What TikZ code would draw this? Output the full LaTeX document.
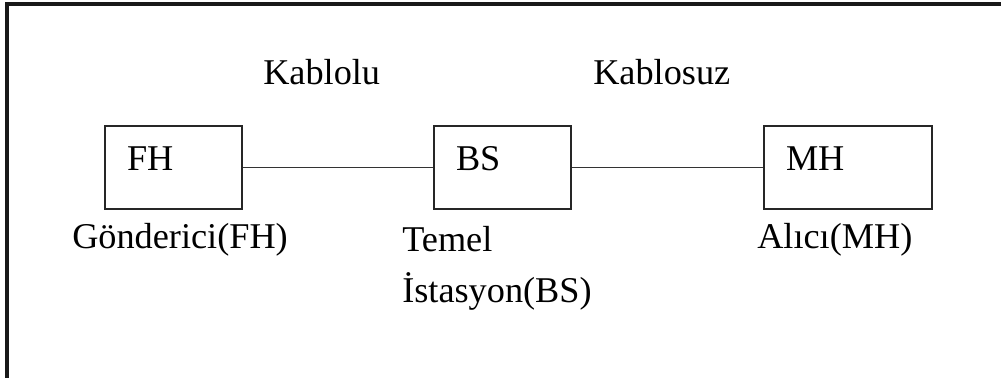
\documentclass[tikz,border=0pt]{standalone}
\usepackage{fontspec}
\setmainfont{Liberation Serif}

\tikzset{
  every node/.style={font=\fontsize{27.2pt}{32pt}\selectfont, inner sep=0pt},
  hostbox/.style={draw=black!85, line width=1.5pt, anchor=north west, align=left,
    inner xsep=16.5pt, inner ysep=0pt, text height=33.75pt, text depth=28.5pt,
    text width=#1},
  tag/.style={anchor=base west},
  link/.style={line width=1.4pt, black!80}
}

\begin{document}
\begin{tikzpicture}[x=0.75pt, y=-0.75pt]
  \useasboundingbox (0,0) rectangle (1001,378);
  % Frame along the top and left edges
  \draw[line width=2.4pt, black!90] (7,378) -- (7,4) -- (1001,4);
  % Hosts
  \node[hostbox=69.75pt] (fh) at (104,125) {FH};
  \node[hostbox=69.75pt] (bs) at (433,125) {BS};
  \node[hostbox=93pt] (mh) at (763,125) {MH};
  % Links between the hosts
  \draw[link] (fh) -- (bs);
  \draw[link] (bs) -- (mh);
  % Link types
  \node[tag] (wired) at (263,85) {Kablolu};
  \node[tag] (wireless) at (593,85) {Kablosuz};
  % Host names
  \node[tag] (fhname) at (72,248) {Gönderici(FH)};
  \node[tag] (bsname) at (402,252) {Temel};
  \node[tag] (bsname2) at (402,302) {İstasyon(BS)};
  \node[tag] (mhname) at (757,248) {Alıcı(MH)};
\end{tikzpicture}
\end{document}
